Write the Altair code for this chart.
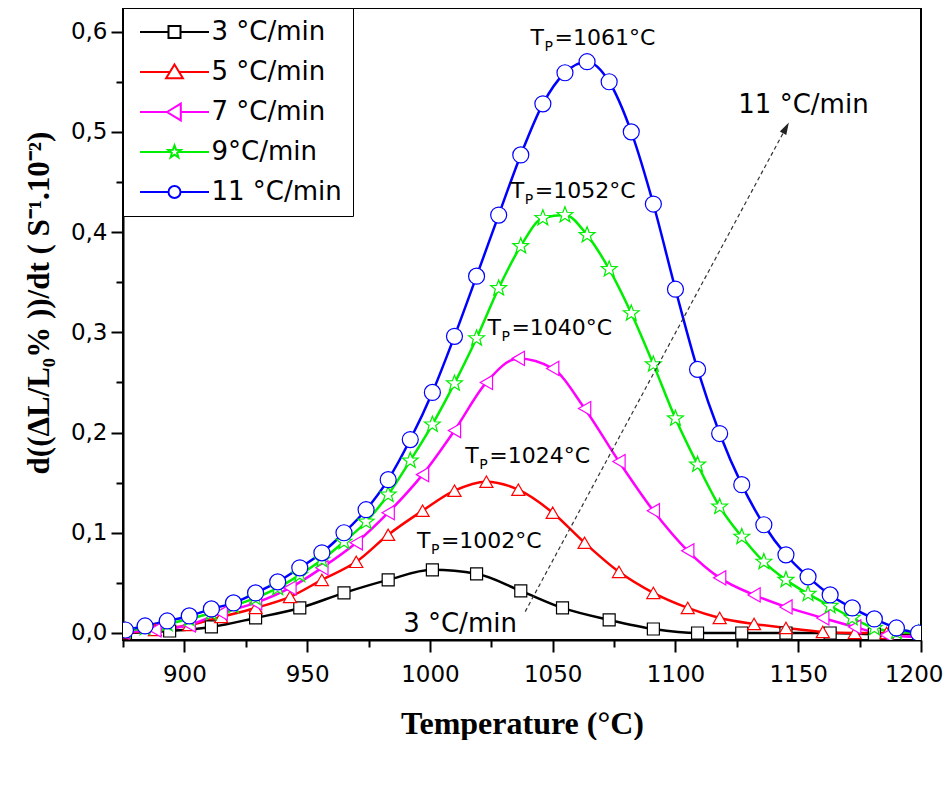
import altair as alt
import pandas as pd

# ---------------- data ----------------
series = ["3 °C/min", "5 °C/min", "7 °C/min", "9°C/min", "11 °C/min"]
colors = ["#000000", "#ff0000", "#ff00ff", "#00ee00", "#0000ff"]

t_3 = [876, 894, 911, 929, 947, 965, 983, 1001, 1019, 1037, 1054, 1073, 1091,
       1109, 1127, 1145, 1163, 1181, 1199]
v_3 = [0.000, 0.002, 0.006, 0.015, 0.025, 0.040, 0.053, 0.063, 0.059, 0.042,
       0.025, 0.013, 0.004, 0.000, 0.000, 0.000, 0.000, -0.001, -0.001]

t_5 = [875, 888, 902, 915, 929, 943, 956, 970, 983, 997, 1010, 1023, 1036,
       1050, 1063, 1077, 1091, 1105, 1118, 1132, 1145, 1160, 1173, 1186, 1200]
v_5 = [0.000, 0.003, 0.008, 0.016, 0.025, 0.036, 0.053, 0.071, 0.098, 0.122,
       0.142, 0.151, 0.143, 0.120, 0.090, 0.061, 0.040, 0.025, 0.015, 0.009,
       0.005, 0.001, 0.000, 0.000, 0.000]

t_7 = [875, 888, 902, 915, 929, 943, 956, 970, 983, 997, 1010, 1023, 1036,
       1050, 1063, 1077, 1091, 1105, 1118, 1132, 1145, 1160, 1173, 1186, 1200]
v_7 = [0.001, 0.003, 0.008, 0.020, 0.030, 0.045, 0.065, 0.090, 0.120, 0.158,
       0.202, 0.250, 0.274, 0.264, 0.224, 0.171, 0.122, 0.082, 0.055, 0.038,
       0.026, 0.015, 0.006, -0.002, -0.004]

t_9 = [876, 884, 893, 902, 911, 920, 929, 938, 947, 956, 965, 974, 983, 992,
       1001, 1010, 1019, 1028, 1037, 1046, 1055, 1064, 1073, 1082, 1091, 1100,
       1109, 1118, 1127, 1136, 1145, 1154, 1163, 1172, 1181, 1190, 1199]
v_9 = [0.002, 0.005, 0.009, 0.014, 0.020, 0.027, 0.035, 0.045, 0.058, 0.073,
       0.091, 0.111, 0.138, 0.172, 0.208, 0.249, 0.294, 0.344, 0.386, 0.414,
       0.417, 0.397, 0.363, 0.319, 0.268, 0.214, 0.168, 0.126, 0.096, 0.071,
       0.053, 0.039, 0.027, 0.015, 0.005, 0.001, 0.000]

t_11 = [876, 884, 893, 902, 911, 920, 929, 938, 947, 956, 965, 974, 983, 992,
        1001, 1010, 1019, 1028, 1037, 1046, 1055, 1064, 1073, 1082, 1091, 1100,
        1109, 1118, 1127, 1136, 1145, 1154, 1163, 1172, 1181, 1190, 1199]
v_11 = [0.003, 0.007, 0.012, 0.017, 0.024, 0.030, 0.040, 0.051, 0.065, 0.080,
        0.100, 0.123, 0.153, 0.193, 0.240, 0.296, 0.356, 0.417, 0.477, 0.528,
        0.559, 0.570, 0.550, 0.500, 0.428, 0.343, 0.263, 0.199, 0.148, 0.108,
        0.078, 0.056, 0.038, 0.025, 0.014, 0.005, 0.000]

# peak annotations
tp_x = [994.7, 1014.4, 1023.4, 1032.9, 1041.0]
tp_y = [0.0845, 0.1694, 0.2974, 0.434, 0.587]
tp_text = ["=1002°C", "=1024°C", "=1040°C", "=1052°C", "=1061°C"]

# heating-rate labels
rate_x = [989.1, 1125.6]
rate_y = [0.001, 0.519]
rate_text = ["3 °C/min", "11 °C/min"]

# dashed arrow (start -> head)
arrow_x = [1038.8]
arrow_y = [0.0213]
arrow_x2 = [1145.0]
arrow_y2 = [0.504]

x_major = [900, 950, 1000, 1050, 1100, 1150, 1200]
x_minor = [875, 925, 975, 1025, 1075, 1125, 1175]
y_major = [0.0, 0.1, 0.2, 0.3, 0.4, 0.5, 0.6]
y_minor = [0.05, 0.15, 0.25, 0.35, 0.45, 0.55]

# ---------------- tables ----------------
rows = []
for name, ts, vs in zip(series, [t_3, t_5, t_7, t_9, t_11], [v_3, v_5, v_7, v_9, v_11]):
    for t, v in zip(ts, vs):
        rows.append({"series": name, "T": t, "v": v})
df = pd.DataFrame(rows)

tp_df = pd.DataFrame({"x": tp_x, "y": tp_y, "rest": tp_text})
rate_df = pd.DataFrame({"x": rate_x, "y": rate_y, "label": rate_text})
arrow_df = pd.DataFrame({"x": arrow_x, "y": arrow_y, "x2": arrow_x2, "y2": arrow_y2})

# ---------------- scales / shapes ----------------
x_scale = alt.Scale(domain=[875, 1200], nice=False, zero=False)
y_scale = alt.Scale(domain=[-0.007, 0.6236], nice=False, zero=False)
stroke_scale = alt.Scale(domain=series, range=colors)

star = ("M0,-1.1L0.27,-0.37L1.05,-0.34L0.44,0.14L0.65,0.89L0,0.46L-0.65,0.89"
        "L-0.44,0.14L-1.05,-0.34L-0.27,-0.37Z")
marker_shapes = ["square", "triangle-up", "triangle-left", star, "circle"]
marker_sizes = [144, 256, 256, 196, 150]

legend_shapes = [
    "M-5.75,0L-1,0M1,0L5.75,0M-1,-1L1,-1L1,1L-1,1Z",
    "M-5.75,0L-0.76,0M0.76,0L5.75,0M0,-1.25L1.4,1.05L-1.4,1.05Z",
    "M-5.75,0L-1.25,0M1.05,0L5.75,0M-1.25,0L1.05,-1.4L1.05,1.4Z",
    "M-5.75,0L-0.5,0M0.5,0L5.75,0" + star,
    "M-5.75,0L-1,0M1,0L5.75,0M1,0A1,1,0,1,1,-1,0A1,1,0,1,1,1,0Z",
]

x_axis = alt.Axis(
    values=x_major, orient="bottom", format="d", tickSize=12,
    labelFlush=True, labelFlushOffset=22, labelOverlap=False, labelPadding=11, grid=False,
    title="Temperature (°C)", titleFontSize=32, titleY=93, titleBaseline="alphabetic",
)
y_axis = alt.Axis(
    values=y_major, orient="left", tickSize=12,
    labelExpr="replace(format(datum.value, '.1f'), '.', ',')",
    labelFlush=False, labelOverlap=False, labelPadding=4, grid=False,
    title="d((ΔL/L₀% ))/dt ( S⁻¹.10⁻²)", titleFontSize=31, titleAngle=270,
    titleX=-75, titleY=294.5, titleBaseline="alphabetic", titleAlign="center",
)
x_axis_minor = alt.Axis(values=x_minor, orient="bottom", tickSize=7, labels=False,
                        domain=False, grid=False, title=None)
y_axis_minor = alt.Axis(values=y_minor, orient="left", tickSize=7, labels=False,
                        domain=False, grid=False, title=None)

lines = alt.Chart(df).mark_line(interpolate="monotone", strokeWidth=2.5, clip=True).encode(
    x=alt.X("T:Q", scale=x_scale, axis=x_axis),
    y=alt.Y("v:Q", scale=y_scale, axis=y_axis),
    stroke=alt.Stroke("series:N", scale=stroke_scale, legend=None),
    order=alt.Order("T:Q"),
)

points = alt.Chart(df).mark_point(filled=True, fill="white", strokeWidth=1.2, opacity=1,
                                  clip=True).encode(
    x=alt.X("T:Q", scale=x_scale, axis=x_axis_minor),
    y=alt.Y("v:Q", scale=y_scale, axis=y_axis_minor),
    stroke=alt.Stroke("series:N", scale=stroke_scale, legend=None),
    shape=alt.Shape("series:N", scale=alt.Scale(domain=series, range=marker_shapes), legend=None),
    size=alt.Size("series:N", scale=alt.Scale(domain=series, range=marker_sizes), legend=None),
)

leg_kwargs = dict(
    title=None, orient="none", legendX=0, legendY=0, padding=11, rowPadding=14,
    symbolSize=144, symbolStrokeWidth=2, symbolOffset=27.5, labelOffset=24,
    labelFont="DejaVu Sans", labelFontSize=26, labelColor="black", labelLimit=0,
    labelExpr="datum.label + '\u00a0\u00a0\u00a0'",
    strokeColor="black", fillColor="white", symbolOpacity=1, symbolFillColor="white",
)
legend_layer = alt.Chart(df).mark_point(filled=False, opacity=0, strokeWidth=2).encode(
    x=alt.X("T:Q", scale=x_scale, axis=None),
    y=alt.Y("v:Q", scale=y_scale, axis=None),
    color=alt.Color("series:N", scale=alt.Scale(domain=series, range=colors),
                    legend=alt.Legend(**leg_kwargs)),
    shape=alt.Shape("series:N", scale=alt.Scale(domain=series, range=legend_shapes),
                    legend=alt.Legend(**leg_kwargs)),
)

tp_base = alt.Chart(tp_df).encode(
    x=alt.X("x:Q", scale=x_scale, axis=None),
    y=alt.Y("y:Q", scale=y_scale, axis=None),
)
txt = dict(font="DejaVu Sans", color="black", align="left", baseline="alphabetic")
tp_T = tp_base.mark_text(text="T", fontSize=22, **txt)
tp_P = tp_base.mark_text(text="P", fontSize=14, dx=14, dy=6, **txt)
tp_rest = tp_base.mark_text(fontSize=22, dx=24, **txt).encode(text="rest:N")

rates = alt.Chart(rate_df).mark_text(fontSize=26, **txt).encode(
    x=alt.X("x:Q", scale=x_scale, axis=None),
    y=alt.Y("y:Q", scale=y_scale, axis=None),
    text="label:N",
)

arrow_line = alt.Chart(arrow_df).mark_rule(color="#333333", strokeWidth=1.2,
                                           strokeDash=[4, 3]).encode(
    x=alt.X("x:Q", scale=x_scale, axis=None),
    y=alt.Y("y:Q", scale=y_scale, axis=None),
    x2="x2:Q", y2="y2:Q",
)
arrow_head = alt.Chart(arrow_df).mark_point(
    shape="M0,-1L0.6,1L-0.6,1Z", filled=True, color="#222222", size=150, angle=28.3,
    opacity=1).encode(
    x=alt.X("x2:Q", scale=x_scale, axis=None),
    y=alt.Y("y2:Q", scale=y_scale, axis=None),
)

chart = alt.layer(
    lines, points, legend_layer, tp_T, tp_P, tp_rest, rates, arrow_line, arrow_head
).resolve_scale(
    color="independent", shape="independent"
).resolve_axis(
    x="independent", y="independent"
).properties(
    width=798, height=632,
    padding={"left": 115, "top": 0, "right": 23, "bottom": 100},
    autosize=alt.AutoSizeParams(type="none"),
).configure_view(
    stroke="black", strokeWidth=2
).configure_axis(
    labelFont="DejaVu Sans", labelFontSize=23, labelColor="black",
    tickColor="black", tickWidth=2, domainColor="black", domainWidth=2,
    titleFont="Liberation Serif", titleFontWeight="bold", titleColor="black",
)

chart.save("out.html", embed_options={"renderer": "svg", "actions": False})
